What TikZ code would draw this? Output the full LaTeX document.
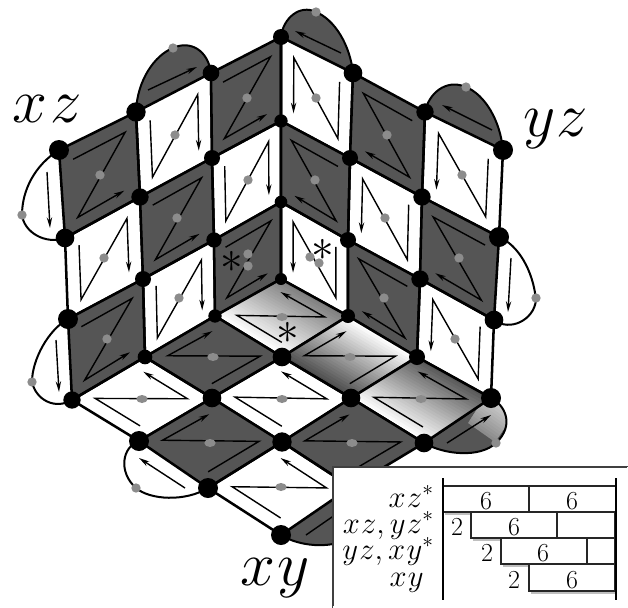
\RequirePackage{fix-cm}
\documentclass[tikz,border=0pt]{standalone}
\usepackage{amsmath}
\usepackage{xcolor}
\usetikzlibrary{arrows.meta, calc, backgrounds, shapes.geometric}

\definecolor{cellgray}{HTML}{555555}
\definecolor{dotgray}{HTML}{8C8C8C}
\definecolor{fadeone}{HTML}{7A7A7A}
\definecolor{fadetwo}{HTML}{474747}
\definecolor{fadethree}{HTML}{525252}

\tikzset{
  vert/.style={circle,fill=black,inner sep=0pt,minimum size=#1},
  spot/.style={circle,fill=dotgray,inner sep=0pt,minimum size=7pt},
  flatspot/.style={ellipse,fill=dotgray,inner sep=0pt,minimum width=8.5pt,minimum height=6pt},
  celledge/.style={line width=1.9pt,line join=round},
  zig/.style={line width=1.05pt,line join=miter,-{Stealth[length=8pt,width=4pt]}},
  lobe/.style={line width=1.5pt},
  slot/.style={line width=0.9pt,draw=black!85,fill=white},
  rulebar/.style={line width=1.5pt},
  dropline/.style={line width=2pt,draw=black!25},
  tablabel/.style={font=\fontsize{19.5}{20}\selectfont,inner sep=0pt},
  rowlabel/.style={font=\fontsize{23}{24}\selectfont,inner sep=0pt,anchor=base east},
  biglabel/.style={font=\fontsize{47}{48}\selectfont,inner sep=0pt,anchor=base west},
  astlabel/.style={font=\fontsize{34}{34}\selectfont,inner sep=0pt}
}

\newcommand{\corners}[4]{
  \coordinate (tl) at (#1);
  \coordinate (tr) at (#2);
  \coordinate (br) at (#3);
  \coordinate (bl) at (#4);
}
\newcommand{\cpt}[2]{($($(tl)!#2!(bl)$)!#1!($(tr)!#2!(br)$)$)}
\newcommand{\zigdark}[4]{
  \corners{#1}{#2}{#3}{#4}
  \draw[zig] \cpt{.17}{.18} -- \cpt{.85}{.17} -- \cpt{.18}{.85} -- \cpt{.8}{.83};
}
\newcommand{\zigwhite}[4]{
  \corners{#1}{#2}{#3}{#4}
  \draw[zig] \cpt{.18}{.18} -- \cpt{.18}{.85} -- \cpt{.82}{.17} -- \cpt{.82}{.83};
}
\newcommand{\celldark}[4]{
  \fill[cellgray] (#1.center) -- (#2.center) -- (#3.center) -- (#4.center) -- cycle;
  \zigdark{#1}{#2}{#3}{#4}
  \draw[celledge] (#1.center) -- (#2.center) -- (#3.center) -- (#4.center) -- cycle;
}
\newcommand{\cellwhite}[4]{
  \zigwhite{#1}{#2}{#3}{#4}
  \draw[celledge] (#1.center) -- (#2.center) -- (#3.center) -- (#4.center) -- cycle;
}
\newcommand{\fadefill}[5]{
  \foreach \fr in {0,4,...,96}
    \fill[#5!\fr!white] ($(#1)!\fr/100!(#4)$) -- ($(#2)!\fr/100!(#3)$) -- (#3.center) -- (#4.center) -- cycle;
}

\begin{document}
\begin{tikzpicture}[x=0.75pt,y=-0.75pt]
  \useasboundingbox (0,0) rectangle (628,607);

  \node[vert=15pt](v00) at (59,150){};
  \node[vert=14pt](v01) at (65,238){};
  \node[vert=15pt](v02) at (68,319){};
  \node[vert=13pt](v03) at (72,400){};
  \node[vert=14.5pt](v10) at (136,112){};
  \node[vert=13pt](v11) at (140,197){};
  \node[vert=12pt](v12) at (143,279){};
  \node[vert=11pt](v13) at (145,357){};
  \node[vert=12.5pt](v20) at (211,73){};
  \node[vert=12pt](v21) at (212,158){};
  \node[vert=11.5pt](v22) at (214,240){};
  \node[vert=10pt](v23) at (215,316){};
  \node[vert=12pt](v30) at (281,37){};
  \node[vert=10pt](v31) at (281,121){};
  \node[vert=9.5pt](v32) at (281,202){};
  \node[vert=9pt](v33) at (281,279){};
  \node[vert=14pt](v40) at (353,73){};
  \node[vert=12pt](v41) at (350,158){};
  \node[vert=12pt](v42) at (348,240){};
  \node[vert=10.5pt](v43) at (348,316){};
  \node[vert=13pt](v50) at (425,112){};
  \node[vert=13pt](v51) at (422,197){};
  \node[vert=13pt](v52) at (420,279){};
  \node[vert=12pt](v53) at (417,357){};
  \node[vert=15pt](v60) at (503,150){};
  \node[vert=15pt](v61) at (499,237){};
  \node[vert=14pt](v62) at (494,320){};
  \node[vert=15pt](v63) at (491,398){};
  \node[vert=14pt](f11) at (282,357){};
  \node[vert=14pt](f12) at (351,398){};
  \node[vert=14pt](f13) at (424,443){};
  \node[vert=14pt](f21) at (212,398){};
  \node[vert=14.5pt](f22) at (282,442){};
  \node[vert=12pt](f23) at (351,487){};
  \node[vert=15pt](f31) at (139,441){};
  \node[vert=15pt](f32) at (208,488){};
  \node[vert=15pt](f33) at (281,535){};

  \begin{scope}[on background layer]
    \fill[white,draw=black,lobe] (v00.center) .. controls (35,165) and (22,190) .. (22,215)
         .. controls (24,232) and (45,245) .. (v01.center);
    \fill[white,draw=black,lobe] (v02.center) .. controls (48,330) and (32,360) .. (32,382)
         .. controls (36,400) and (55,410) .. (v03.center);
    \fill[cellgray,draw=black,lobe] (v10.center) .. controls (137,80) and (155,55) .. (173,48)
         .. controls (190,40) and (208,50) .. (v20.center);
    \fill[cellgray,draw=black,lobe] (v30.center) .. controls (283,18) and (300,4) .. (316,12)
         .. controls (335,20) and (350,45) .. (v40.center);
    \fill[cellgray,draw=black,lobe] (v50.center) .. controls (428,95) and (445,78) .. (466,87)
         .. controls (485,95) and (500,120) .. (v60.center);
    \fill[white,draw=black,lobe] (v61.center) .. controls (518,245) and (533,270) .. (536,300)
         .. controls (534,320) and (510,332) .. (v62.center);
    \fill[white,draw=black,lobe] (f31.center) .. controls (122,447) and (118,472) .. (136,488)
         .. controls (150,500) and (185,502) .. (f32.center);
    \fill[cellgray,draw=black,lobe] (f33.center) .. controls (300,547) and (330,548) .. (345,540)
         -- (f23.center);

    \path[save path=\lobepath] (f13.center) .. controls (445,455) and (480,458) .. (496,443)
         .. controls (515,425) and (505,405) .. (v63.center) -- cycle;
    \fill[cellgray,use path=\lobepath];
    \begin{scope}
      \clip[use path=\lobepath];
      \foreach \fr in {0,5,...,95}
        \fill[white!\fr!black!45] ($(468,423)!\fr/100!(500,375)$) -- ($(495,442)!\fr/100!(527,394)$)
             -- (527,394) -- (500,375) -- cycle;
    \end{scope}
    \draw[lobe,use path=\lobepath];

    \draw[zig] (47,172) -- (50,228);
    \draw[zig] (56,340) -- (59,392);
    \draw[zig] (148,90) -- (197,67);
    \draw[zig] (341,53) -- (295,31);
    \draw[zig] (492,130) -- (442,105);
    \draw[zig] (511,258) -- (508,312);
    \draw[zig] (185,488) -- (139,458);
    \draw[zig] (447,443) -- (491,415);
    \draw[zig] (306,535) -- (345,508);

    \celldark{v00}{v10}{v11}{v01}
    \cellwhite{v01}{v11}{v12}{v02}
    \celldark{v02}{v12}{v13}{v03}
    \cellwhite{v10}{v20}{v21}{v11}
    \celldark{v11}{v21}{v22}{v12}
    \cellwhite{v12}{v22}{v23}{v13}
    \celldark{v20}{v30}{v31}{v21}
    \cellwhite{v21}{v31}{v32}{v22}
    \celldark{v22}{v32}{v33}{v23}

    \cellwhite{v40}{v30}{v31}{v41}
    \celldark{v41}{v31}{v32}{v42}
    \cellwhite{v42}{v32}{v33}{v43}
    \celldark{v50}{v40}{v41}{v51}
    \cellwhite{v51}{v41}{v42}{v52}
    \celldark{v52}{v42}{v43}{v53}
    \cellwhite{v60}{v50}{v51}{v61}
    \celldark{v61}{v51}{v52}{v62}
    \cellwhite{v62}{v52}{v53}{v63}

    \fadefill{v23}{f11}{v43}{v33}{fadeone}
    \zigwhite{f11}{v43}{v33}{v23}
    \draw[celledge] (f11.center) -- (v43.center) -- (v33.center) -- (v23.center) -- cycle;
    \fadefill{v53}{v43}{f11}{f12}{fadetwo}
    \zigdark{f12}{v53}{v43}{f11}
    \draw[celledge] (f12.center) -- (v53.center) -- (v43.center) -- (f11.center) -- cycle;
    \fadefill{f12}{f13}{v63}{v53}{fadethree}
    \zigwhite{f13}{v63}{v53}{f12}
    \draw[celledge] (f13.center) -- (v63.center) -- (v53.center) -- (f12.center) -- cycle;

    \celldark{f21}{f11}{v23}{v13}
    \cellwhite{f31}{f21}{v13}{v03}
    \cellwhite{f22}{f12}{f11}{f21}
    \celldark{f32}{f22}{f21}{f31}
    \celldark{f23}{f13}{f12}{f22}
    \cellwhite{f33}{f23}{f22}{f32}
  \end{scope}

  \node[spot](s00) at (100,175){};
  \node[spot](s01) at (104,258){};
  \node[spot](s02) at (107,339){};
  \node[spot](s10) at (175,135){};
  \node[spot](s11) at (177,218){};
  \node[spot](s12) at (179,298){};
  \node[spot](s20) at (247,98){};
  \node[spot](s21) at (248,180){};
  \node[spot](s22) at (248,254){};
  \node[spot](s23) at (248,266){};
  \node[spot](s30) at (316,98){};
  \node[spot](s31) at (315,180){};
  \node[spot](s32) at (310,257){};
  \node[spot](s33) at (319,263){};
  \node[spot](s40) at (387,135){};
  \node[spot](s41) at (385,218){};
  \node[spot](s42) at (384,298){};
  \node[spot](s50) at (462,175){};
  \node[spot](s51) at (459,258){};
  \node[spot](s52) at (455,339){};
  \node[spot](t1) at (22,215){};
  \node[spot](t2) at (32,382){};
  \node[spot](t3) at (173,48){};
  \node[spot](t4) at (316,12){};
  \node[spot](t5) at (466,87){};
  \node[spot](t6) at (536,298){};
  \node[spot](t7) at (136,488){};
  \node[spot](t8) at (496,443){};
  \node[flatspot](r00) at (282,317){};
  \node[flatspot](r01) at (350,357){};
  \node[flatspot](r02) at (421,399){};
  \node[flatspot](r10) at (213,357){};
  \node[flatspot](r11) at (282,399){};
  \node[flatspot](r12) at (352,443){};
  \node[flatspot](r20) at (142,399){};
  \node[flatspot](r21) at (210,443){};
  \node[flatspot](r22) at (281,487){};

  \node[astlabel](ast1) at (232,262){$*$};
  \node[astlabel](ast2) at (323,250){$*$};
  \node[astlabel](ast3) at (288,333){$*$};

  \node[biglabel](xzlabel) at (12,122){$x\kern2.5pt z$};
  \node[biglabel](yzlabel) at (523,136){$y\kern1pt z$};
  \node[biglabel](xylabel) at (240,585){$x\kern1.5pt y$};

  \fill[white,draw=black!75,line width=1.2pt] (628,467) -- (333,467) -- (333,607) -- (628,607);
  \draw[white,line width=1.2pt] (628,467) -- (628,607) -- (333,607);
  \draw[dropline] (445,514) -- (471,514);
  \draw[dropline] (473,540) -- (501,540);
  \draw[dropline] (503,566) -- (529,566);
  \draw[dropline] (531,593) -- (615,593);
  \draw[slot] (443,486) rectangle (529,512);
  \draw[slot] (529,486) rectangle (616,512);
  \draw[slot] (471,512) rectangle (557,538);
  \draw[slot] (557,512) rectangle (615,538);
  \draw[slot] (501,538) rectangle (587,564);
  \draw[slot] (587,538) rectangle (615,564);
  \draw[slot] (529,564) rectangle (615,591);
  \draw[rulebar] (443,478) -- (443,600);
  \draw[rulebar] (616,478) -- (616,600);

  \node[tablabel](n1) at (486,501){6};
  \node[tablabel](n2) at (572,501){6};
  \node[tablabel](n3) at (457,527){2};
  \node[tablabel](n4) at (514,527){6};
  \node[tablabel](n5) at (487,553){2};
  \node[tablabel](n6) at (543,553){6};
  \node[tablabel](n7) at (514,580){2};
  \node[tablabel](n8) at (572,580){6};

  \node[rowlabel](row1) at (434,507){$x\kern1pt z^*$};
  \node[rowlabel](row2) at (434,533){$x\kern1pt z,y\kern1pt z^*$};
  \node[rowlabel](row3) at (434,559){$y\kern1pt z,x\kern1pt y^*$};
  \node[rowlabel](row4) at (424,586){$x\kern1pt y$};
\end{tikzpicture}
\end{document}
